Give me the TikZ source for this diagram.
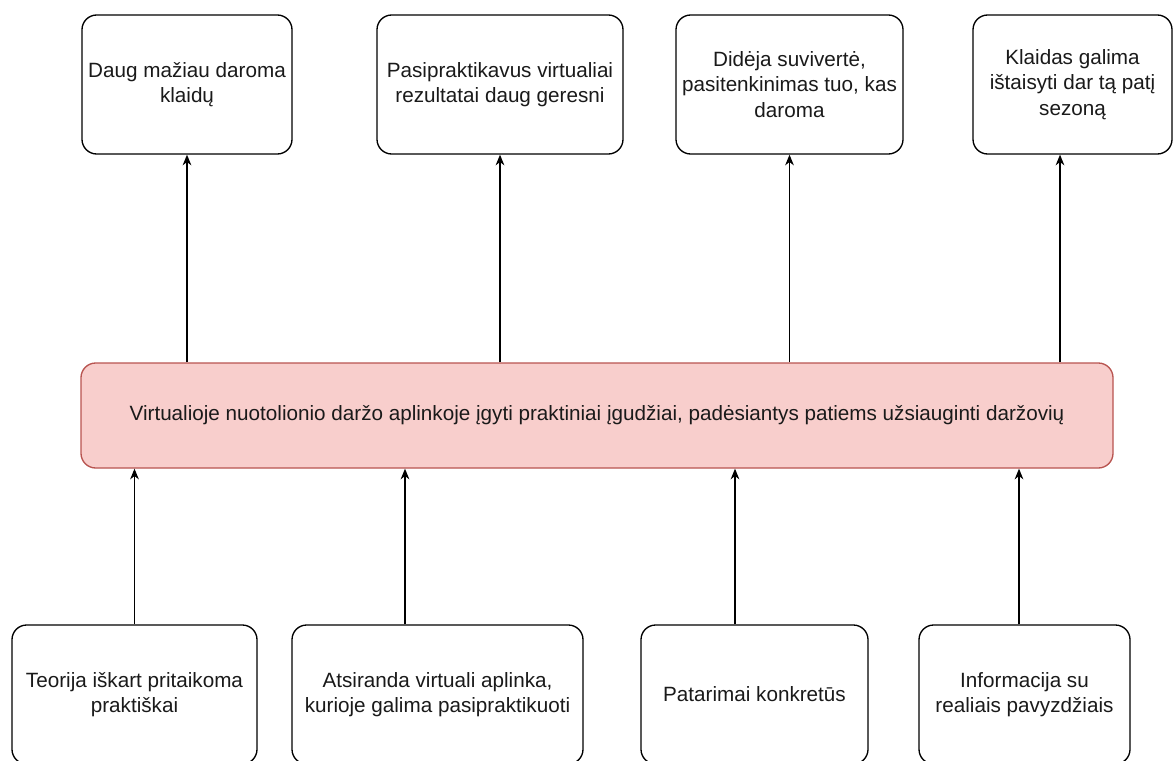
\documentclass[tikz,border=0pt]{standalone}
\usepackage{fontspec}
\setmainfont{Liberation Sans}
\usetikzlibrary{arrows.meta}
\definecolor{pinkfill}{HTML}{F8CECC}
\definecolor{redline}{HTML}{B85450}
\definecolor{txt}{HTML}{1A1A1A}
\tikzset{
  box/.style={draw=black, line width=1pt, rounded corners=11pt, fill=white,
    align=center, text=txt, inner sep=2pt,
    font=\fontsize{15.5}{19.2}\selectfont},
  mainbox/.style={box, draw=redline, fill=pinkfill},
  arr/.style={draw=black, line width=1pt, -{Stealth[length=8pt,width=6.5pt,inset=2.5pt]}}
}
\begin{document}
\begin{tikzpicture}[x=0.75pt,y=-0.75pt]
\useasboundingbox (0,0) rectangle (1173,760);
% top boxes (y 14..153)
\node[box, minimum width=157.5pt, minimum height=104.25pt] (T1) at (187,84.5) {Daug mažiau daroma\\klaidų};
\node[box, minimum width=184.5pt, minimum height=104.25pt] (T2) at (500,84.5) {Pasipraktikavus virtualiai\\rezultatai daug geresni};
\node[box, minimum width=170.25pt, minimum height=104.25pt] (T3) at (789.5,84.5) {Didėja suvivertė,\\pasitenkinimas tuo, kas\\daroma};
\node[box, minimum width=149.25pt, minimum height=104.25pt] (T4) at (1072.5,84.5) {Klaidas galima\\ištaisyti dar tą patį\\sezoną};
% central box
\node[mainbox, minimum width=774pt, minimum height=78.75pt] (C) at (597,415.5) {Virtualioje nuotolionio daržo aplinkoje įgyti praktiniai įgudžiai, padėsiantys patiems užsiauginti daržovių};
% bottom boxes (top 625)
\node[box, minimum width=183.75pt, minimum height=104.25pt] (B1) at (134.5,694.5) {Teorija iškart pritaikoma\\praktiškai};
\node[box, minimum width=218.25pt, minimum height=104.25pt] (B2) at (437.5,694.5) {Atsiranda virtuali aplinka,\\kurioje galima pasipraktikuoti};
\node[box, minimum width=170.25pt, minimum height=104.25pt] (B3) at (754.5,694.5) {Patarimai konkretūs};
\node[box, minimum width=158.25pt, minimum height=104.25pt] (B4) at (1024.5,694.5) {Informacija su\\realiais pavyzdžiais};
% connector x positions
\coordinate (x4) at (1060,0);
\coordinate (y2) at (405,0);
\coordinate (y3) at (735,0);
\coordinate (y4) at (1019,0);
% arrows up to top boxes
\draw[arr] (C.north -| T1.south) -- (T1.south);
\draw[arr] (C.north -| T2.south) -- (T2.south);
\draw[arr] (C.north -| T3.south) -- (T3.south);
\draw[arr] (C.north -| x4) -- (T4.south -| x4);
% arrows up from bottom boxes
\draw[arr] (B1.north) -- (C.south -| B1.north);
\draw[arr] (B2.north -| y2) -- (C.south -| y2);
\draw[arr] (B3.north -| y3) -- (C.south -| y3);
\draw[arr] (B4.north -| y4) -- (C.south -| y4);
\end{tikzpicture}
\end{document}
